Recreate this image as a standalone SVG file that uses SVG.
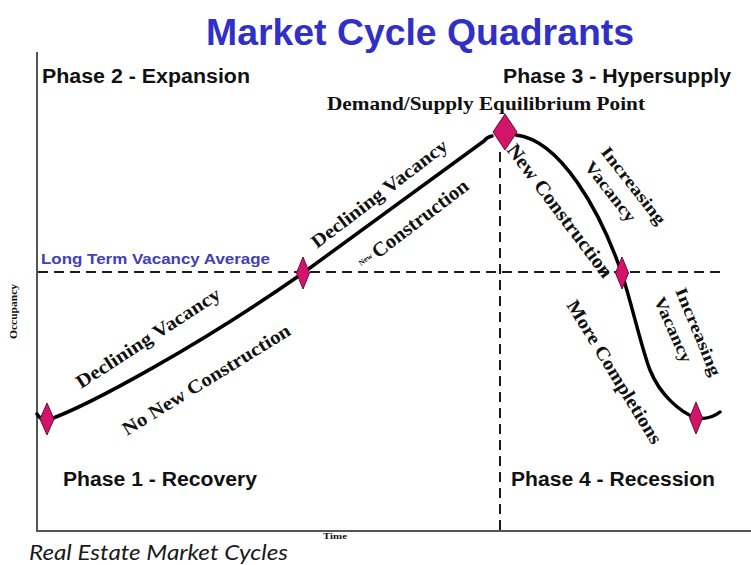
<svg xmlns="http://www.w3.org/2000/svg" width="751" height="565" viewBox="0 0 751 565">
  <style>
    .axis { stroke: #555; stroke-width: 2; fill: none; }
    .guide { stroke: #1a1a1a; stroke-width: 2; fill: none; stroke-dasharray: 10 6; }
    .curve { stroke: #000; stroke-width: 3.5; fill: none; stroke-linecap: round; stroke-linejoin: round; }
    .mark { fill: #d3146b; stroke: #6e0a38; stroke-width: 1; }
    .title { font-family: "Liberation Sans", Arial, sans-serif; font-weight: bold; fill: #3030c8; }
    .phase { font-family: "Liberation Sans", Arial, sans-serif; font-weight: bold; font-size: 20px; fill: #111; }
    .lbl { font-family: "Liberation Serif", "Times New Roman", serif; font-weight: bold; fill: #111; }
    .cap { font-family: Lato, "Liberation Sans", sans-serif; font-style: italic; fill: #1a1a1a; }
  </style>
  <rect width="751" height="565" fill="#ffffff"/>

  <!-- title -->
  <g id="title">
    <text class="title" x="206" y="45" font-size="37" textLength="428" lengthAdjust="spacingAndGlyphs">Market Cycle Quadrants</text>
  </g>

  <!-- axes and axis names -->
  <g id="axes">
    <line class="axis" x1="37" y1="52" x2="37" y2="531"/>
    <line class="axis" x1="36" y1="531" x2="751" y2="531"/>
    <text class="lbl" font-size="11" font-weight="normal" transform="translate(17,339) rotate(-90)" textLength="55" lengthAdjust="spacingAndGlyphs">Occupancy</text>
    <text class="lbl" x="323" y="539" font-size="9" textLength="24" lengthAdjust="spacingAndGlyphs">Time</text>
  </g>

  <g id="connectors">
    <line class="guide" x1="38" y1="272" x2="726" y2="272"/>
    <line class="guide" x1="500" y1="152" x2="500" y2="530" stroke-dasharray="8 6"/>
    <!-- market cycle curve -->
    <path class="curve" d="M 37,414 Q 40,420 48,420 C 90,405 200,345 303,273 L 484,141 Q 487,137 492,136"/>
    <path class="curve" d="M 516,135 C 560,140 600,210 622,274 C 632,305 642,350 650,370 C 660,395 680,412 696,418 Q 710,420 720,412"/>
  </g>

  <!-- phase labels -->
  <g id="phase2"><text class="phase" x="42" y="83" textLength="208" lengthAdjust="spacingAndGlyphs">Phase 2 - Expansion</text></g>
  <g id="phase3"><text class="phase" x="503" y="83" textLength="228" lengthAdjust="spacingAndGlyphs">Phase 3 - Hypersupply</text></g>
  <g id="phase1"><text class="phase" x="63" y="486" textLength="194" lengthAdjust="spacingAndGlyphs">Phase 1 - Recovery</text></g>
  <g id="phase4"><text class="phase" x="511" y="486" textLength="204" lengthAdjust="spacingAndGlyphs">Phase 4 - Recession</text></g>

  <g id="vacancy-average">
    <text x="41" y="264" font-family="Liberation Sans, Arial, sans-serif" font-weight="bold" font-size="15" fill="#4040b8" textLength="229" lengthAdjust="spacingAndGlyphs">Long Term Vacancy Average</text>
  </g>

  <!-- turning points -->
  <g id="trough">
    <polygon class="mark" points="47,403 54,419 47,435 40,419"/>
  </g>
  <g id="rising-crossing">
    <polygon class="mark" points="303,257 309.5,273 303,289 296.5,273"/>
  </g>
  <g id="equilibrium">
    <polygon class="mark" points="505,114 517,132 505,150 493,132"/>
    <text class="lbl" x="327" y="110" font-size="19" textLength="318" lengthAdjust="spacingAndGlyphs">Demand/Supply Equilibrium Point</text>
  </g>
  <g id="falling-crossing">
    <polygon class="mark" points="622,257 628.5,273 622,289 615.5,273"/>
  </g>
  <g id="bottom">
    <polygon class="mark" points="696,402 702.5,418 696,434 689.5,418"/>
  </g>

  <!-- curve annotations -->
  <g id="recovery-notes">
    <text class="lbl" font-size="19" transform="translate(81,389) rotate(-33)" textLength="168" lengthAdjust="spacingAndGlyphs">Declining Vacancy</text>
    <text class="lbl" font-size="19" transform="translate(127,436) rotate(-31.7)" textLength="194" lengthAdjust="spacingAndGlyphs">No New Construction</text>
  </g>
  <g id="expansion-notes">
    <text class="lbl" font-size="19" transform="translate(317,249) rotate(-37.3)" textLength="166" lengthAdjust="spacingAndGlyphs">Declining Vacancy</text>
    <text class="lbl" font-size="8" transform="translate(361,266) rotate(-37)">New</text>
    <text class="lbl" font-size="20" transform="translate(378,259) rotate(-37.5)" textLength="116" lengthAdjust="spacingAndGlyphs">Construction</text>
  </g>
  <g id="hypersupply-notes">
    <text class="lbl" font-size="20" transform="translate(506,150) rotate(53)" textLength="162" lengthAdjust="spacingAndGlyphs">New Construction</text>
    <text class="lbl" font-size="17" text-anchor="middle" transform="translate(629,189) rotate(52)" textLength="94" lengthAdjust="spacingAndGlyphs">Increasing</text>
    <text class="lbl" font-size="17" text-anchor="middle" transform="translate(606,195) rotate(52)" textLength="72" lengthAdjust="spacingAndGlyphs">Vacancy</text>
  </g>
  <g id="recession-notes">
    <text class="lbl" font-size="19" transform="translate(566,305) rotate(58.5)" textLength="165" lengthAdjust="spacingAndGlyphs">More Completions</text>
    <text class="lbl" font-size="17" text-anchor="middle" transform="translate(693,334) rotate(67.4)" textLength="94" lengthAdjust="spacingAndGlyphs">Increasing</text>
    <text class="lbl" font-size="17" text-anchor="middle" transform="translate(668,332) rotate(66)" textLength="70" lengthAdjust="spacingAndGlyphs">Vacancy</text>
  </g>

  <g id="caption">
    <text class="cap" x="29" y="560" font-size="21" textLength="259" lengthAdjust="spacingAndGlyphs">Real Estate Market Cycles</text>
  </g>
</svg>
